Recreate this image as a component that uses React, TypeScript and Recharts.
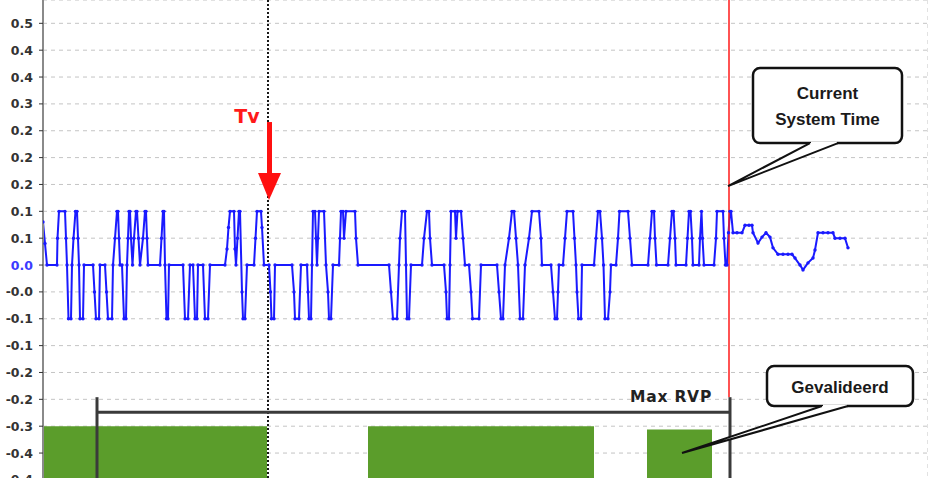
import React from 'react';
import {
  ComposedChart,
  Line,
  XAxis,
  YAxis,
  CartesianGrid,
  ReferenceLine,
  ReferenceArea,
  ReferenceDot,
} from 'recharts';

// deviation signal: [time, value]
const signal: [number, number][] = [
  [0, 0.08], [2, 0.04], [4, 0], [14, 0], [14.5, 0.05], [16, 0.1], [22, 0.1], [23, 0.05], [24, 0], [25.5, -0.1],
  [28, -0.1], [29, 0], [30.5, 0.05], [32.5, 0.1], [34, 0.1], [35, 0.05], [36, 0], [37, -0.1], [40, -0.1], [41, 0],
  [50, 0], [51.5, -0.05], [53, -0.1], [56, -0.1], [57, 0], [62, 0], [63.5, -0.05], [65, -0.1], [69, -0.1], [70, 0],
  [72, 0.05], [74, 0.1], [75, 0.1], [76, 0.05], [77, 0], [79, 0], [81, -0.1], [83, -0.1], [84, 0], [85, 0.05],
  [86, 0.1], [87, 0.1], [88, 0.05], [89.5, 0], [91, 0.05], [93, 0.1], [94, 0.1], [95.5, 0.05], [97, 0], [100, 0.05],
  [102, 0.1], [103, 0.1], [104, 0.05], [105, 0], [117, 0], [118.5, 0.05], [120, 0.1], [121, 0.1], [122, 0], [123.5, -0.1],
  [125, -0.1], [126, 0], [140, 0], [142, -0.1], [145, -0.1], [147, 0], [150, 0], [152, -0.1], [154, -0.1], [155, 0],
  [160, 0], [162, -0.1], [165, -0.1], [167, 0], [182, 0], [184, 0.03], [185.5, 0.07], [187, 0.1], [191, 0.1], [192, 0.03],
  [193, 0], [194.5, 0.05], [196, 0.1], [197, 0.1], [199, -0.05], [200, -0.1], [202, -0.1], [204, 0], [211, 0], [212.5, 0.05],
  [214, 0.1], [218, 0.1], [219, 0.07], [221, 0], [226, 0], [227.5, -0.05], [228.5, -0.1], [231, -0.1], [232, 0], [249, 0],
  [251, -0.05], [252, -0.1], [256, -0.1], [258, 0], [264, 0], [265, -0.05], [266, -0.1], [268, -0.1], [269, 0], [270, 0.1],
  [272, 0.1], [273, 0.05], [274, 0], [275, 0.05], [276, 0.1], [281, 0.1], [283, 0], [285, -0.05], [286, -0.1], [288, -0.1],
  [290, 0], [296, 0], [297, 0.05], [298, 0.1], [300, 0.1], [301, 0.05], [303, 0.1], [312, 0.1], [313, 0.05], [315, 0],
  [346, 0], [348, -0.05], [350, -0.1], [354, -0.1], [356, 0], [357, 0.05], [359, 0.1], [362, 0.1], [363, 0], [364, -0.1],
  [366, -0.1], [368, 0], [379, 0], [381, 0.05], [384, 0.1], [386, 0.1], [387, 0.05], [389, 0], [401, 0], [403, -0.05],
  [404, -0.1], [406, -0.1], [407, 0], [408, 0.1], [412, 0.1], [413, 0.05], [414.5, 0.1], [418, 0.1], [420, 0.05], [422, 0],
  [426, 0], [428, -0.05], [429.5, -0.1], [436, -0.1], [438, 0], [454, 0], [456, -0.05], [458, -0.1], [460, -0.1], [462, 0],
  [466, 0.05], [469, 0.1], [471, 0.1], [473, 0.05], [475, 0], [477, -0.1], [480, -0.1], [482, 0], [486, 0.05], [489, 0.1],
  [496, 0.1], [498, 0.05], [499, 0], [508, 0], [510, -0.05], [512, -0.1], [514, -0.1], [515, -0.05], [516, 0], [520, 0],
  [522, 0.05], [524, 0.1], [530, 0.1], [531.5, 0.05], [533, 0], [534, -0.05], [535.5, -0.1], [538, -0.1], [539, 0], [551, 0],
  [553, 0.05], [555, 0.1], [557, 0.1], [559, 0.05], [560.5, 0], [562, -0.1], [565, -0.1], [567, -0.05], [568, 0], [573, 0],
  [575, 0.05], [576.5, 0.1], [585, 0.1], [587, 0.05], [589, 0], [605, 0], [607, 0.05], [609, 0.1], [611, 0.1], [612, 0.05],
  [613.5, 0], [625, 0], [627, 0.05], [629, 0.1], [630.5, 0.1], [632, 0.05], [633, 0], [643, 0], [644.5, 0.05], [646, 0.1],
  [647.5, 0.1], [649, 0.05], [650, 0], [656, 0], [657, 0.05], [658.5, 0.1], [659.5, 0.05], [661, 0], [671, 0], [673, 0.05],
  [674, 0.1], [680, 0.1], [681, 0.05], [682.5, 0], [684, 0], [685.5, 0.06], [687, 0.1],
  // after current system time
  [688, 0.1], [690, 0.06], [694, 0.06], [699, 0.06], [702, 0.074], [706, 0.074], [709, 0.074], [710, 0.06], [715, 0.041],
  [719, 0.052], [723, 0.06], [727, 0.052], [730, 0.032], [735, 0.02], [740, 0.02], [745, 0.02], [749, 0.02], [752, 0.013],
  [757, 0], [760, -0.009], [765, 0.004], [770, 0.013], [772, 0.028], [775, 0.06], [780, 0.06], [785, 0.06], [790, 0.06],
  [792, 0.05], [797, 0.05], [802, 0.05], [805, 0.032],
];

// validated periods: [start, end, top]
const validated: [number, number, number][] = [
  [0, 224, -0.3],
  [325, 551, -0.3],
  [604, 669, -0.306],
];

const yTicks = [0.45, 0.4, 0.35, 0.3, 0.25, 0.2, 0.15, 0.1, 0.05, 0, -0.05, -0.1, -0.15, -0.2, -0.25, -0.3, -0.35, -0.4];
const yTickLabels = ['0.5', '0.4', '0.4', '0.3', '0.2', '0.2', '0.2', '0.1', '0.1', '0.0', '-0.0', '-0.1', '-0.1', '-0.2', '-0.2', '-0.3', '-0.4', '-0.4'];
const gridTimes = [192, 388, 584, 780];

const tvTime = 225;
const currentTime = 686;
const maxRvpStart = 54;
const maxRvpEnd = 687;
const maxRvpLevel = -0.274;
const maxRvpTop = -0.246;

const Y_MIN = -0.456;
const Y_MAX = 0.4934;

const data = signal.map(([t, v]) => ({ t, v }));

const YTick = (props: any) => {
  const { x, y, payload } = props;
  const i = yTicks.findIndex((t) => Math.abs(t - payload.value) < 1e-6);
  return (
    <text
      x={x}
      y={y}
      dy={4.5}
      textAnchor="end"
      fontFamily="DejaVu Sans"
      fontWeight="bold"
      fontSize={12.5}
      fill={payload.value === 0 ? '#3b3bff' : '#333'}
    >
      {yTickLabels[i] ?? ''}
    </text>
  );
};

const calloutFont = { fontFamily: 'Liberation Sans, Arial', fontWeight: 'bold' as const, fontSize: 17, fill: '#1a1a1a' };

const Callout = ({ cx, cy, box, tail, lines }: any) => {
  const [bx1, by1, bx2, by2] = box;
  const [t1, t2] = tail;
  const mid = (bx1 + bx2) / 2;
  return (
    <g transform={`translate(${cx},${cy})`}>
      <rect x={bx1} y={by1} width={bx2 - bx1} height={by2 - by1} rx={7} fill="#fff" stroke="#111" strokeWidth={2.5} />
      <path d={`M${t1},${by2} L0,0 L${t2},${by2} Z`} fill="#fff" stroke="none" />
      <line x1={t1 + 1} y1={by2} x2={t2 - 1} y2={by2} stroke="#fff" strokeWidth={3} />
      <path d={`M${t1},${by2} L0,0 L${t2},${by2}`} fill="none" stroke="#111" strokeWidth={2} />
      {lines.map((l: [string, number], i: number) => (
        <text key={i} x={mid} y={by1 + l[1]} textAnchor="middle" {...calloutFont}>
          {l[0]}
        </text>
      ))}
    </g>
  );
};

const TvArrow = ({ cx, cy }: any) => (
  <g transform={`translate(${cx},${cy})`}>
    <rect x={-1} y={-78} width={5} height={54} fill="#ff1010" />
    <path d="M-10,-27 L13,-27 L1,0 Z" fill="#ff1010" />
    <text x={-21} y={-77} textAnchor="middle" fontFamily="DejaVu Sans" fontWeight="bold" fontSize={19} fill="#ff1a1a">
      Tv
    </text>
  </g>
);

const MaxRvpLabel = ({ cx, cy }: any) => (
  <text x={cx - 59} y={cy - 10} textAnchor="middle" fontFamily="DejaVu Sans" fontWeight="bold" fontSize={15.5} letterSpacing={0.8} fill="#222">
    Max RVP
  </text>
);

export default function App() {
  return (
    <div style={{ position: 'absolute', left: 0, top: 0, width: 928, height: 478, overflow: 'hidden', background: '#fff' }}>
      <ComposedChart width={928} height={540} data={data} margin={{ top: 0, right: 0, left: 0, bottom: 0 }}>
        <CartesianGrid stroke="#c4c4c4" strokeDasharray="4 4" />
        <XAxis dataKey="t" type="number" domain={[0, 885]} ticks={gridTimes} height={30} allowDataOverflow tick={false} axisLine={false} tickLine={false} />
        <YAxis
          type="number"
          domain={[Y_MIN, Y_MAX]}
          ticks={yTicks}
          interval={0}
          width={43}
          allowDataOverflow
          tick={<YTick />}
          tickSize={4}
          tickMargin={6}
          axisLine={{ stroke: '#8a8a8a', strokeWidth: 2 }}
          tickLine={{ stroke: '#333' }}
        />
        {validated.map(([a, b, top], i) => (
          <ReferenceArea key={i} x1={a} x2={b} y1={Y_MIN} y2={top} fill="#5b9d2b" fillOpacity={1} stroke="none" ifOverflow="visible" />
        ))}
        <ReferenceLine x={tvTime} stroke="#000" strokeWidth={1.8} strokeDasharray="2 2" />
        <Line
          dataKey="v"
          type="linear"
          stroke="#1a1aff"
          strokeWidth={2}
          dot={{ r: 1.7, fill: '#1a1aff', stroke: 'none' }}
          isAnimationActive={false}
        />
        <ReferenceLine segment={[{ x: currentTime, y: Y_MAX }, { x: currentTime, y: maxRvpTop }]} stroke="#ff1a1a" strokeWidth={1.5} ifOverflow="visible" />
        <ReferenceLine segment={[{ x: maxRvpStart, y: maxRvpLevel }, { x: maxRvpEnd, y: maxRvpLevel }]} stroke="#3a3a3a" strokeWidth={3} ifOverflow="visible" />
        <ReferenceLine segment={[{ x: maxRvpStart, y: maxRvpTop }, { x: maxRvpStart, y: Y_MIN }]} stroke="#3a3a3a" strokeWidth={3} ifOverflow="visible" />
        <ReferenceLine segment={[{ x: maxRvpEnd, y: maxRvpTop }, { x: maxRvpEnd, y: Y_MIN }]} stroke="#3a3a3a" strokeWidth={3} ifOverflow="visible" />
        <ReferenceDot x={maxRvpEnd} y={maxRvpLevel} r={0} shape={(p: any) => <MaxRvpLabel {...p} />} ifOverflow="visible" />
        <ReferenceDot x={tvTime} y={0.121} r={0} shape={(p: any) => <TvArrow {...p} />} ifOverflow="visible" />
        <ReferenceDot
          x={currentTime - 1}
          y={0.147}
          r={0}
          ifOverflow="visible"
          shape={(p: any) => (
            <Callout cx={p.cx} cy={p.cy} box={[25, -118, 174, -43]} tail={[82, 110]} lines={[['Current', 31], ['System Time', 57]]} />
          )}
        />
        <ReferenceDot
          x={639}
          y={-0.35}
          r={0}
          ifOverflow="visible"
          shape={(p: any) => (
            <Callout cx={p.cx} cy={p.cy} box={[85, -87, 231, -47]} tail={[140, 166]} lines={[['Gevalideerd', 27]]} />
          )}
        />
      </ComposedChart>
    </div>
  );
}
